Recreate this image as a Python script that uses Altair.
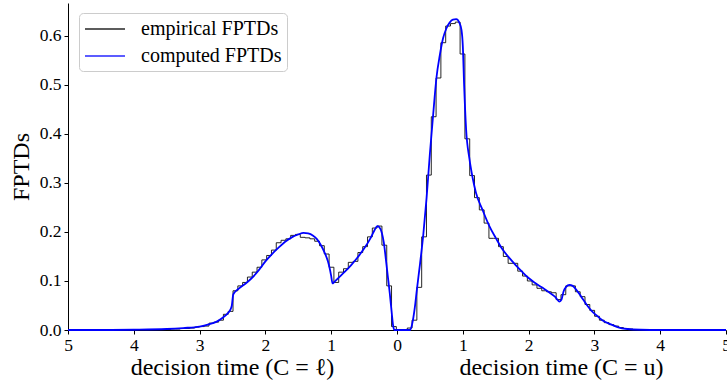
import altair as alt
import pandas as pd

# ---- computed FPTD curve (signed time: negative side = lower boundary C=l) ----
curve_t = [-5.0, -4.5, -4.0, -3.5, -3.25, -3.0, -2.85, -2.74, -2.65, -2.58, -2.53, -2.51,
           -2.49, -2.46, -2.4, -2.3, -2.23, -2.1, -2.0, -1.9, -1.8, -1.7, -1.6, -1.5,
           -1.42, -1.35, -1.28, -1.22, -1.16, -1.1, -1.05, -1.02, -1.0, -0.98, -0.96,
           -0.9, -0.8, -0.7, -0.6, -0.5, -0.4, -0.34, -0.3, -0.27, -0.23, -0.2, -0.17,
           -0.14, -0.11, -0.08, -0.06, -0.04, 0.0, 0.1, 0.2,
           0.23, 0.27, 0.3, 0.35, 0.4, 0.45, 0.5, 0.55, 0.6, 0.65, 0.7, 0.75, 0.8, 0.85,
           0.9, 0.95, 0.98, 1.0, 1.02, 1.05, 1.1, 1.15, 1.2, 1.3, 1.4, 1.5, 1.6, 1.7,
           1.8, 1.9, 2.0, 2.1, 2.2, 2.3, 2.4, 2.47, 2.5, 2.53, 2.57, 2.62, 2.67, 2.72,
           2.8, 2.88, 2.95, 3.03, 3.12, 3.24, 3.35, 3.5, 3.7, 4.0, 4.5, 5.0]
curve_p = [0.0, 0.0, 0.0005, 0.002, 0.004, 0.007, 0.012, 0.017, 0.025, 0.033, 0.042, 0.05,
           0.072, 0.078, 0.085, 0.095, 0.103, 0.122, 0.14, 0.155, 0.168, 0.18, 0.189, 0.195,
           0.198, 0.197, 0.193, 0.186, 0.174, 0.158, 0.14, 0.124, 0.11, 0.095, 0.097,
           0.105, 0.118, 0.132, 0.148, 0.166, 0.188, 0.204, 0.212, 0.21, 0.198, 0.178, 0.145,
           0.11, 0.075, 0.035, 0.01, 0.0, 0.0, 0.0, 0.0,
           0.012, 0.045, 0.08, 0.135, 0.195, 0.27, 0.36, 0.44, 0.515, 0.56, 0.595, 0.615, 0.627, 0.633,
           0.634, 0.626, 0.612, 0.58, 0.5, 0.41, 0.35, 0.31, 0.28, 0.245, 0.213, 0.188, 0.165, 0.148,
           0.133, 0.119, 0.106, 0.096, 0.087, 0.078, 0.068, 0.058, 0.062, 0.078, 0.088, 0.092, 0.09, 0.083,
           0.068, 0.052, 0.04, 0.03, 0.02, 0.012, 0.006, 0.002, 0.0005, 0.0, 0.0, 0.0]

# ---- empirical FPTD histograms (bin heights, bins starting at t=0.01, width 0.073) ----
bin_start = 0.01
bin_width = 0.073
hist_lower = [0.007, 0.09, 0.173, 0.212, 0.208, 0.19, 0.17, 0.158, 0.14, 0.138,
              0.125, 0.118, 0.097, 0.128, 0.155, 0.172, 0.181, 0.186, 0.188, 0.189,
              0.195, 0.193, 0.186, 0.183, 0.178, 0.163, 0.152, 0.143, 0.128, 0.118,
              0.108, 0.097, 0.09, 0.08, 0.038, 0.032, 0.02, 0.016, 0.014, 0.008,
              0.007, 0.006, 0.004, 0.003, 0.003, 0.002, 0.002, 0.001, 0.001, 0.001, 0.0005]
hist_upper = [0.0, 0.0, 0.004, 0.02, 0.087, 0.19, 0.316, 0.435, 0.514, 0.586,
              0.62, 0.625, 0.628, 0.563, 0.39, 0.315, 0.27, 0.245, 0.218, 0.187,
              0.187, 0.17, 0.15, 0.136, 0.136, 0.12, 0.11, 0.1, 0.092, 0.085,
              0.08, 0.078, 0.076, 0.062, 0.072, 0.09, 0.09, 0.078, 0.068, 0.052,
              0.04, 0.028, 0.02, 0.015, 0.011, 0.008, 0.005, 0.003, 0.002, 0.001,
              0.001, 0.0005]

x_ticks = [-5, -4, -3, -2, -1, 0, 1, 2, 3, 4, 5]
y_ticks = [0.0, 0.1, 0.2, 0.3, 0.4, 0.5, 0.6]
x_titles = ["decision time (C = \u2113)", "decision time (C = u)"]
x_title_pos = [-2.5, 2.5]

SERIES = ["empirical FPTDs", "computed FPTDs"]
FONT = "Liberation Serif"

# build histogram step data
rows = []
n = len(hist_lower)
for k in range(n):
    rows.append({"t": -(bin_start + bin_width * (k + 1)), "p": hist_lower[k], "side": "lower"})
rows.append({"t": -bin_start, "p": 0.0, "side": "lower"})
n = len(hist_upper)
for k in range(n):
    rows.append({"t": bin_start + bin_width * k, "p": hist_upper[k], "side": "upper"})
rows.append({"t": bin_start + bin_width * n, "p": 0.0, "side": "upper"})
hist_df = pd.DataFrame(rows)
hist_df["series"] = SERIES[0]

curve_df = pd.DataFrame({"t": curve_t, "p": curve_p, "series": SERIES[1]})
title_df = pd.DataFrame({"t": x_title_pos, "label": x_titles})

xscale = alt.Scale(domain=[-5, 5], nice=False, zero=False)
yscale = alt.Scale(domain=[0, 0.667], nice=False)
color = alt.Color(
    "series:N",
    scale=alt.Scale(domain=SERIES, range=["#000000", "#0000ff"]),
    legend=alt.Legend(
        title=None, orient="none", legendX=11, legendY=10,
        symbolType="M-1,0H3", symbolSize=400, symbolStrokeWidth=1.6,
        labelFont=FONT, labelFontSize=20, labelColor="black", labelOffset=35,
        padding=5, rowPadding=6, strokeColor="#cccccc", fillColor="rgba(255,255,255,0.8)",
        cornerRadius=4,
    ),
)

xaxis = alt.Axis(values=x_ticks, labelExpr="abs(datum.value)", title=None, grid=False,
                 labelFont=FONT, labelFontSize=17.5, labelColor="black", labelPadding=2,
                 tickSize=4, tickColor="black", domainColor="black", labelFlush=False)
yaxis = alt.Axis(values=y_ticks, format=".1f", title="FPTDs", grid=False,
                 labelFont=FONT, labelFontSize=17.5, labelColor="black", labelPadding=3,
                 tickSize=4, tickColor="black", domainColor="black",
                 titleFont=FONT, titleFontSize=24, titleFontWeight="normal", titleColor="black",
                 titlePadding=6)

hist = alt.Chart(hist_df).mark_line(interpolate="step-after", strokeWidth=1, opacity=0.85).encode(
    x=alt.X("t:Q", scale=xscale, axis=xaxis),
    y=alt.Y("p:Q", scale=yscale, axis=yaxis),
    color=color,
    detail="side:N",
)
curve = alt.Chart(curve_df).mark_line(interpolate="monotone", strokeWidth=1.8).encode(
    x=alt.X("t:Q", scale=xscale),
    y=alt.Y("p:Q", scale=yscale),
    color=color,
)
titles = alt.Chart(title_df).mark_text(font=FONT, fontSize=24, baseline="alphabetic",
                                       align="center", color="black").encode(
    x=alt.X("t:Q", scale=xscale),
    y=alt.value(372),
    text="label:N",
)

chart = alt.layer(hist, curve, titles).properties(
    width=658, height=327,
    autosize=alt.AutoSizeParams(type="none"),
    padding={"left": 68, "top": 3, "right": 1, "bottom": 52},
    background="white",
).configure_view(stroke=None)

chart.save("out.html", embed_options={"renderer": "svg", "actions": False})
